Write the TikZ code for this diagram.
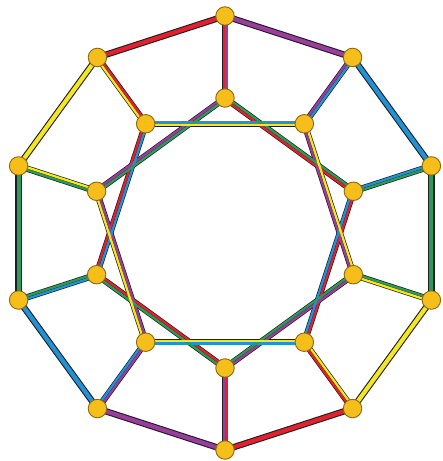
\documentclass[tikz,border=0pt]{standalone}
\usetikzlibrary{calc}
\definecolor{cred}{HTML}{E3202B}
\definecolor{cpur}{HTML}{9C3D9E}
\definecolor{cblu}{HTML}{1F93D6}
\definecolor{cgrn}{HTML}{2C9B55}
\definecolor{cyel}{HTML}{F4E81C}
\definecolor{cnode}{HTML}{F6BE1A}
\definecolor{cnode2}{HTML}{8A6A10}
\definecolor{cdark}{HTML}{1E1E28}
\pgfdeclarelayer{bg}
\pgfsetlayers{bg,main}
% strand on the right of the direction #2 -> #3
\newcommand{\strandR}[3]{\draw[#1,line width=2.3pt] ($(#2.center)!1.35pt!-90:(#3.center)$) -- ($(#3.center)!1.35pt!90:(#2.center)$);}
% strand on the left of the direction #2 -> #3
\newcommand{\strandL}[3]{\draw[#1,line width=2.3pt] ($(#2.center)!1.35pt!90:(#3.center)$) -- ($(#3.center)!1.35pt!-90:(#2.center)$);}
\begin{document}
\begin{tikzpicture}[x=1pt,y=1pt,
  vtx/.style={circle,fill=cnode,draw=cnode2,line width=0.9pt,minimum size=18.5pt,inner sep=0pt},
  base/.style={cdark,line width=6.4pt},
  outeredge/.style={line width=4.2pt}]
\useasboundingbox (0,0) rectangle (443,461);
\coordinate (c) at (225,228);
\foreach \i in {0,...,9}{
  \node[vtx] (o\i) at ($(c)+(90-36*\i:217)$) {};
  \node[vtx] (m\i) at ($(c)+(90-36*\i:135)$) {};
}
\begin{pgfonlayer}{bg}
\foreach \i in {0,...,9}{
  \pgfmathtruncatemacro{\qn}{mod(\i+1,10)}
  \pgfmathtruncatemacro{\qt}{mod(\i+2,10)}
  \draw[base] (o\i.center) -- (o\qn.center);
  \draw[base] (o\i.center) -- (m\i.center);
  \draw[base] (m\i.center) -- (m\qt.center);
}
\foreach \j/\col in {0/cred,1/cpur,2/cblu,3/cgrn,4/cyel}{
  \pgfmathtruncatemacro{\pA}{mod(\j+9,10)}
  \pgfmathtruncatemacro{\pB}{mod(\j+2,10)}
  \pgfmathtruncatemacro{\pC}{mod(\j+4,10)}
  \pgfmathtruncatemacro{\pD}{mod(\j+5,10)}
  \pgfmathtruncatemacro{\pE}{mod(\j+7,10)}
  \draw[\col,outeredge] (o\pA.center) -- (o\j.center);
  \draw[\col,outeredge] (o\pC.center) -- (o\pD.center);
  \strandR{\col}{o\j}{m\j}
  \strandR{\col}{m\j}{m\pB}
  \strandL{\col}{m\pB}{m\pC}
  \strandR{\col}{m\pC}{o\pC}
  \strandR{\col}{o\pD}{m\pD}
  \strandR{\col}{m\pD}{m\pE}
  \strandL{\col}{m\pE}{m\pA}
  \strandR{\col}{m\pA}{o\pA}
}
\end{pgfonlayer}
\end{tikzpicture}
\end{document}
